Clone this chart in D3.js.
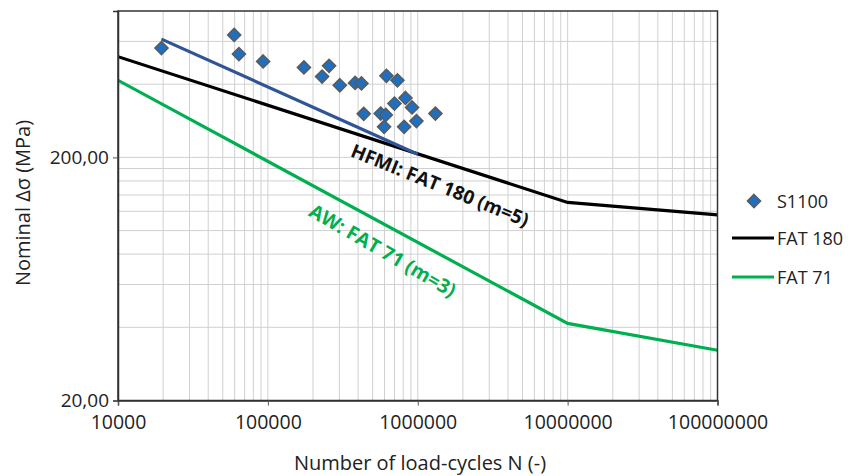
<!DOCTYPE html>
<html>
<head>
<meta charset="utf-8">
<script src="https://cdn.jsdelivr.net/npm/d3@7"></script>
<style>
    body { margin: 0; background: #fff; }
    text { font-family: "Open Sans", "Noto Sans", sans-serif; fill: #222; }
</style>
</head>
<body>
<script>
// S1100 test results (N, nominal stress range in MPa)
const s1100N = [19500, 59600, 64100, 93000, 174000, 256000, 230000, 302000, 382000, 421000,
    618000, 732000, 436000, 566000, 612000, 596000, 699000, 828000, 916000, 811000, 980000, 1312000];
const s1100S = [563, 638, 532, 496, 469, 476, 430, 396, 405, 403,
    433, 415, 302, 303, 299, 267, 333, 351, 321, 267, 282, 303];

// design curves
const fat180 = [[1e4, 519], [1e7, 130.5], [1e8, 116]];
const fat71 = [[1e4, 415], [1e7, 41.5], [1e8, 32.2]];
// regression line through the test data
const fitLine = [[19500, 613], [1e6, 206]];

const xTicks = [1e4, 1e5, 1e6, 1e7, 1e8];
const yTicks = [20, 200];
const yMinor = [40, 60, 80, 100, 120, 140, 160, 180, 400, 600];

const width = 860;
const height = 476;

const svg = d3
    .select("body")
    .append("svg")
    .attr("width", width)
    .attr("height", height);

const x = d3.scaleLog().domain([1e4, 1e8]).range([118, 717.5]);
const y = d3.scaleLog().domain([20, 800]).range([400.5, 11]);

// vertical grid: every 1..9 x 10^k
const xMinor = [];
for (let k = 4; k < 8; k++) {
    for (let m = 1; m <= 9; m++) xMinor.push(m * Math.pow(10, k));
}
xMinor.push(1e8);

const grid = svg.append("g").attr("stroke", "#d0d0d0").attr("stroke-width", 1);
grid.selectAll(".vx")
    .data(xMinor)
    .enter()
    .append("line")
    .attr("x1", (d) => x(d))
    .attr("x2", (d) => x(d))
    .attr("y1", y(800))
    .attr("y2", y(20));
grid.selectAll(".hy")
    .data(yMinor)
    .enter()
    .append("line")
    .attr("x1", x(1e4))
    .attr("x2", x(1e8))
    .attr("y1", (d) => y(d))
    .attr("y2", (d) => y(d));
grid.append("line")
    .attr("x1", x(1e4))
    .attr("x2", x(1e8))
    .attr("y1", y(200))
    .attr("y2", y(200));

// clip lines to the plot area
svg.append("clipPath")
    .attr("id", "plot")
    .append("rect")
    .attr("x", x(1e4))
    .attr("y", y(800))
    .attr("width", x(1e8) - x(1e4))
    .attr("height", y(20) - y(800));

const line = d3.line().x((d) => x(d[0])).y((d) => y(d[1]));

const curves = svg.append("g").attr("clip-path", "url(#plot)").attr("fill", "none");
curves.append("path").datum(fat71).attr("d", line).attr("stroke", "#00b050").attr("stroke-width", 3.2);
curves.append("path").datum(fat180).attr("d", line).attr("stroke", "#000").attr("stroke-width", 3.2);
curves.append("path").datum(fitLine).attr("d", line).attr("stroke", "#2f5597").attr("stroke-width", 3.2);

// frame
svg.append("rect")
    .attr("x", x(1e4))
    .attr("y", y(800))
    .attr("width", x(1e8) - x(1e4))
    .attr("height", y(20) - y(800))
    .attr("fill", "none")
    .attr("stroke", "#333")
    .attr("stroke-width", 1.5);

// axes
const xAxis = d3.axisBottom(x).tickValues(xTicks).tickSize(5).tickPadding(10).tickFormat(d3.format("d"));
const gx = svg.append("g").attr("transform", `translate(0,${y(20)})`).call(xAxis);
gx.select(".domain").attr("stroke", "#333").attr("stroke-width", 1.5);
gx.selectAll(".tick line").attr("stroke", "#555");
gx.selectAll("text").style("font-size", "19.5px").attr("fill", "#222").attr("font-family", "Open Sans");

const yAxis = d3.axisLeft(y).tickValues(yTicks).tickSize(5).tickPadding(4)
    .tickFormat((d) => d3.format(".2f")(d).replace(".", ","));
const gy = svg.append("g").attr("transform", `translate(${x(1e4)},0)`).call(yAxis);
gy.select(".domain").attr("stroke", "#333").attr("stroke-width", 1.5);
gy.selectAll(".tick line").attr("stroke", "#555");
gy.selectAll("text").style("font-size", "19px").attr("fill", "#222").attr("font-family", "Open Sans");

// data points
const diamond = d3.symbol().type(d3.symbolDiamond2).size(110);
svg.append("g")
    .selectAll("path")
    .data(s1100N.map((n, i) => [n, s1100S[i]]))
    .enter()
    .append("path")
    .attr("d", diamond)
    .attr("transform", (d) => `translate(${x(d[0])},${y(d[1])})`)
    .attr("fill", "#1f6fc1")
    .attr("stroke", "#5a5a5a")
    .attr("stroke-width", 1.5);

// curve labels
svg.append("text")
    .attr("transform", "translate(440,185) rotate(22)")
    .attr("text-anchor", "middle")
    .attr("dominant-baseline", "central")
    .style("font-size", "19px")
    .style("font-weight", "bold")
    .style("fill", "#111")
    .text("HFMI: FAT 180 (m=5)");

svg.append("text")
    .attr("transform", "translate(383,250) rotate(30)")
    .attr("text-anchor", "middle")
    .attr("dominant-baseline", "central")
    .style("font-size", "19.5px")
    .style("font-weight", "bold")
    .style("fill", "#00b050")
    .text("AW: FAT 71 (m=3)");

// axis titles
svg.append("text")
    .attr("x", 420)
    .attr("y", 462)
    .attr("text-anchor", "middle")
    .attr("dominant-baseline", "central")
    .style("font-size", "20px")
    .text("Number of load-cycles  N (-)");

svg.append("text")
    .attr("transform", "translate(22,203) rotate(-90)")
    .attr("text-anchor", "middle")
    .attr("dominant-baseline", "central")
    .style("font-size", "20px")
    .text("Nominal \u0394\u03c3 (MPa)");

// legend
const legend = svg.append("g");
legend.append("path")
    .attr("d", diamond)
    .attr("transform", "translate(754,201)")
    .attr("fill", "#1f6fc1")
    .attr("stroke", "#5a5a5a")
    .attr("stroke-width", 1.5);
const legendItems = [
    { label: "S1100", y: 201, color: null },
    { label: "FAT 180", y: 238, color: "#000" },
    { label: "FAT 71", y: 277, color: "#00b050" },
];
legendItems.forEach((it) => {
    if (it.color) {
        legend.append("line")
            .attr("x1", 732).attr("x2", 774)
            .attr("y1", it.y).attr("y2", it.y)
            .attr("stroke", it.color).attr("stroke-width", 3.2);
    }
    legend.append("text")
        .attr("x", 777)
        .attr("y", it.y)
        .attr("dominant-baseline", "central")
        .style("font-size", "18px")
        .text(it.label);
});
</script>
</body>
</html>
